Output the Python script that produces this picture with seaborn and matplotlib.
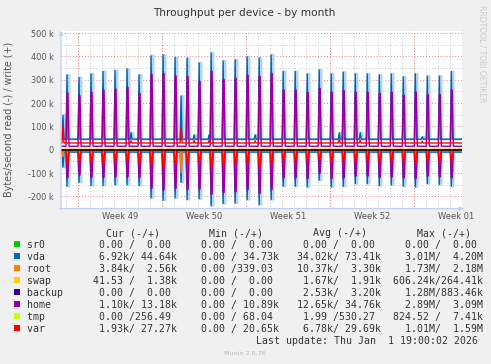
import numpy as np
import pandas as pd
import matplotlib
matplotlib.use('Agg')
import matplotlib.pyplot as plt
from matplotlib.patches import Rectangle
import seaborn as sns

W, H = 491, 364

# devices in munin drawing order
DEVICES = ['sr0', 'vda', 'root', 'swap', 'backup', 'home', 'tmp', 'var']
COLORS = ['#00CC00', '#0066B3', '#FF8000', '#FFCC00', '#330099', '#990099', '#CCFF00', '#FF0000']

# flat levels between the nightly spikes (k bytes/s), write is +, read is -
BASE_WRITE = [0, 45, 3, 4, 0, 15, 3, 29]
BASE_READ = [0, -10, -4, -1.5, 0, -1.5, 0, -1]

# nightly backup spikes, one per day (day 0 = Mon 1 Dec 2025)
SPIKE_DAYS = list(range(-1, 32))
SPIKE_TIME = 0.11
VDA_WRITE_PEAK = [321, 310, 326, 336, 340, 347, 321, 403, 407, 396, 393, 373, 416, 381, 386, 399, 394,
                  407, 336, 336, 326, 343, 326, 333, 326, 326, 321, 326, 313, 326, 316, 316, 336]
VDA_READ_PEAK = [-157, -140, -154, -154, -151, -151, -154, -207, -217, -207, -214, -211, -240, -231, -229, -214, -236,
                 -214, -157, -157, -160, -131, -160, -157, -146, -146, -154, -151, -157, -160, -146, -150, -157]
HOME_WRITE_PEAK = [243, 232, 246, 256, 260, 267, 241, 323, 327, 316, 313, 293, 336, 301, 306, 319, 314,
                   327, 256, 256, 246, 263, 246, 253, 246, 246, 241, 246, 233, 246, 236, 236, 256]
HOME_READ_PEAK = [-120, -108, -118, -118, -116, -116, -118, -165, -172, -165, -170, -168, -190, -183, -180, -170, -186,
                  -170, -120, -120, -122, -100, -122, -120, -112, -112, -118, -116, -120, -122, -112, -115, -120]
VAR_READ_PEAK = [-55, -45, -50, -60, -50, -45, -55, -60, -75, -60, -55, -50, -70, -65, -60, -55, -70,
                 -60, -45, -50, -45, -40, -50, -45, -50, -45, -50, -45, -50, -55, -45, -50, -45]
ROOT_READ_PEAK = [-20, -15, -25, -20, -18, -22, -20, -30, -25, -28, -20, -25, -30, -22, -25, -20, -28,
                  -25, -18, -20, -22, -30, -20, -18, -22, -25, -20, -18, -22, -20, -25, -18, -20]

# two odd extra events
EXTRA_DAYS = [-1.25, 8.58]
EXTRA_VDA_WRITE = [148, 231]
EXTRA_VDA_READ = [-75, -140]
EXTRA_VAR_WRITE = [105, 100]
EXTRA_ROOT_READ = [-30, -100]

# small daytime bumps on vda / var
BUMP_DAYS = [4.4, 9.7, 10.9, 14.75, 21.75, 23.5, 28.7]
VDA_BUMP = [73, 64, 64, 64, 73, 73, 56]
VAR_BUMP = [38, 40, 40, 38, 43, 40, 36]

Y_TICKS = [-200, -100, 0, 100, 200, 300, 400, 500]
WEEK_LABELS = ['Week 49', 'Week 50', 'Week 51', 'Week 52', 'Week 01']
WEEK_MID = [3.5, 10.5, 17.5, 24.5, 31.5]

# legend table
CUR_READ = ['0.00', '6.92k', '3.84k', '41.53', '0.00', '1.10k', '0.00', '1.93k']
CUR_WRITE = ['0.00', '44.64k', '2.56k', '1.38k', '0.00', '13.18k', '256.49', '27.27k']
MIN_READ = ['0.00', '0.00', '0.00', '0.00', '0.00', '0.00', '0.00', '0.00']
MIN_WRITE = ['0.00', '34.73k', '339.03', '0.00', '0.00', '10.89k', '68.04', '20.65k']
AVG_READ = ['0.00', '34.02k', '10.37k', '1.67k', '2.53k', '12.65k', '1.99', '6.78k']
AVG_WRITE = ['0.00', '73.41k', '3.30k', '1.91k', '3.20k', '34.76k', '530.27', '29.69k']
MAX_READ = ['0.00', '3.01M', '1.73M', '606.24k', '1.28M', '2.89M', '824.52', '1.01M']
MAX_WRITE = ['0.00', '4.20M', '2.18M', '264.41k', '883.46k', '3.09M', '7.41k', '1.59M']

# ---- build the time series (2h resolution) ----
t = np.round(np.arange(-1.5, 32.0, 1 / 12), 4)


def idx(day):
    return int(np.argmin(np.abs(t - day)))


write = {d: np.full(len(t), float(b)) for d, b in zip(DEVICES, BASE_WRITE)}
read = {d: np.full(len(t), float(b)) for d, b in zip(DEVICES, BASE_READ)}

for k, day in enumerate(SPIKE_DAYS):
    i = idx(day + SPIKE_TIME)
    write['vda'][i] = VDA_WRITE_PEAK[k]
    read['vda'][i] = VDA_READ_PEAK[k]
    # the home backup runs over two 2h buckets
    write['home'][i:i + 2] = HOME_WRITE_PEAK[k]
    read['home'][i:i + 2] = HOME_READ_PEAK[k]
    read['var'][i:i + 2] = VAR_READ_PEAK[k]
    read['root'][i] = ROOT_READ_PEAK[k]

for k, day in enumerate(EXTRA_DAYS):
    i = idx(day)
    write['vda'][i] = EXTRA_VDA_WRITE[k]
    read['vda'][i] = EXTRA_VDA_READ[k]
    write['var'][i] = EXTRA_VAR_WRITE[k]
    read['root'][i] = EXTRA_ROOT_READ[k]

for k, day in enumerate(BUMP_DAYS):
    i = idx(day)
    write['vda'][i] = VDA_BUMP[k]
    write['var'][i] = VAR_BUMP[k]

records = []
order = []
palette = {}
for d, c in zip(DEVICES, COLORS):
    for direction, vals in (('read', read[d]), ('write', write[d])):
        key = f'{d}_{direction}'
        order.append(key)
        palette[key] = c
        records.append(pd.DataFrame({'day': t, 'value': vals, 'series': key}))
df = pd.concat(records, ignore_index=True)

# ---- figure ----
fig = plt.figure(figsize=(W / 100, H / 100), dpi=100, facecolor='#F0F0F0')
ax_l, ax_r, ax_t, ax_b = 61, 461.5, 31.5, 208.5
ax = fig.add_axes([ax_l / W, 1 - ax_b / H, (ax_r - ax_l) / W, (ax_b - ax_t) / H])
ax.set_facecolor('white')
ax.set_xlim(-1.415, 31.93)
ax.set_ylim(-252, 507)

# grid
for d in range(-1, 32):
    ax.axvline(d, color='#C8C8C8', lw=0.7, ls=(0, (1, 2)), zorder=0)
for d in [0, 7, 14, 21, 28]:
    ax.axvline(d, color='#F08080', lw=0.7, ls=(0, (1, 2)), zorder=0.5)
for v in range(-250, 501, 50):
    if v % 100:
        ax.axhline(v, color='#C8C8C8', lw=0.7, ls=(0, (1, 2)), zorder=0)
    else:
        ax.axhline(v, color='#F08080', lw=0.7, ls=(0, (1, 2)), zorder=0.5)

# pale antialias trail next to the vda spikes
trail = df[df.series.str.startswith('vda')].copy()
for shift, col in ((0.22, '#DCEAF8'), (0.12, '#B4D3F1')):
    tr = trail.copy()
    tr['day'] = tr['day'] + shift
    sns.lineplot(data=tr, x='day', y='value', hue='series', estimator=None,
                 palette={'vda_read': col, 'vda_write': col},
                 linewidth=1.6, ax=ax, legend=False, zorder=1, sort=False)

sns.lineplot(data=df, x='day', y='value', hue='series', hue_order=order, estimator=None,
             palette=palette, linewidth=1.0, ax=ax, legend=False, zorder=2, sort=False)
ax.axhline(0, color='black', lw=1.1, zorder=3)

ax.set_xlabel('')
ax.set_ylabel('')
for s in ax.spines.values():
    s.set_visible(False)

ax.set_yticks(Y_TICKS)
ax.set_yticklabels(['0' if v == 0 else f'{v} k' for v in Y_TICKS])
ax.set_xticks(WEEK_MID)
ax.set_xticklabels(WEEK_LABELS)
ax.tick_params(axis='y', length=0, pad=5, labelsize=5.9, labelcolor='#555555')
ax.tick_params(axis='x', length=0, pad=2.2, labelsize=6.0, labelcolor='#555555')

axis_col = '#C4CCF6'
ax.annotate('', xy=(0, 1.02), xytext=(0, -0.02), xycoords='axes fraction',
            arrowprops=dict(arrowstyle='-|>', color=axis_col, lw=0.9, mutation_scale=6), annotation_clip=False)
ax.annotate('', xy=(1.013, 0), xytext=(-0.01, 0), xycoords='axes fraction',
            arrowprops=dict(arrowstyle='-|>', color=axis_col, lw=0.9, mutation_scale=6), annotation_clip=False)


def px(x, y):
    return x / W, 1 - y / H


fig.text(*px(244.7, 15.5), 'Throughput per device - by month', ha='center', va='baseline',
         fontsize=7.6, color='#333333')
fig.text(*px(9, 119.5), 'Bytes/second read (-) / write (+)', rotation=90, ha='center', va='center',
         fontsize=6.9, color='#555555')
fig.text(*px(482, 54), 'RRDTOOL / TOBI OETIKER', rotation=270, ha='center', va='center',
         fontsize=5.5, color='#CCCCCC')
fig.text(*px(245, 355), 'Munin 2.0.76', ha='center', va='baseline', fontsize=4.6, color='#BBBBBB')

mono = dict(family='DejaVu Sans Mono', fontsize=7.1, color='#333333', va='baseline')


def fmt(v):
    if v[-1].isalpha():
        return v[:-1].rjust(6) + v[-1]
    return v.rjust(6) + ' '


for x, h in zip([106, 209.3, 313.3, 416.7], ['Cur (-/+)', 'Min (-/+)', 'Avg (-/+)', 'Max (-/+)']):
    fig.text(*px(x, 236.3), h, **mono)

for i, d in enumerate(DEVICES):
    yc = 244.4 + 12 * i
    fig.add_artist(Rectangle(px(14, yc + 3), 6 / W, 6 / H, transform=fig.transFigure,
                             facecolor=COLORS[i], edgecolor='none'))
    row = d.ljust(10)
    row += fmt(CUR_READ[i]) + '/' + fmt(CUR_WRITE[i]) + '  '
    row += fmt(MIN_READ[i]) + '/' + fmt(MIN_WRITE[i]) + '  '
    row += fmt(AVG_READ[i]) + '/' + fmt(AVG_WRITE[i]) + '  '
    row += fmt(MAX_READ[i]) + '/' + fmt(MAX_WRITE[i])
    fig.text(*px(26.7, yc + 3.6), row, **mono)

fig.text(*px(256, 344.3), 'Last update: Thu Jan  1 19:00:02 2026', **mono)

fig.savefig('out.png', dpi=100, facecolor='#F0F0F0')
